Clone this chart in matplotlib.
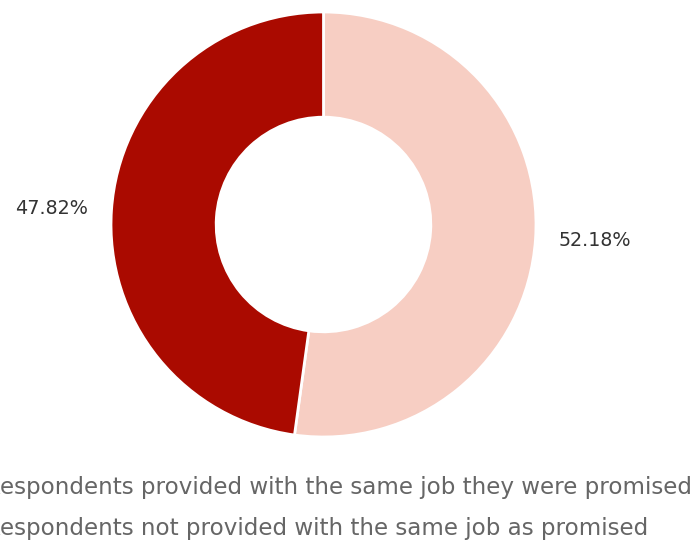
import matplotlib
matplotlib.use('Agg')
import matplotlib.pyplot as plt

labels = ['Respondents provided with the same job they were promised',
          'Respondents not provided with the same job as promised']
values = [52.18, 47.82]
colors = ['#F7CEC3', '#AA0A00']

plt.rcParams['font.family'] = ['DejaVu Sans']

fig = plt.figure(figsize=(6.97, 5.43), dpi=100)
ax = fig.add_axes([111 / 697, 106 / 543, 425 / 697, 425 / 543])

wedges, texts = ax.pie(values, labels=[f'{v:.2f}%' for v in values],
                       colors=colors, startangle=90, counterclock=False,
                       labeldistance=1.11, radius=1,
                       wedgeprops=dict(width=0.495, edgecolor='white', linewidth=2),
                       textprops=dict(fontsize=13.8, color='#333333'))
ax.set_xlim(-1, 1)
ax.set_ylim(-1, 1)
ax.set_aspect('equal')
ax.axis('off')

# legend markers sit off the left edge, as in the source image
fig.legend(wedges, labels, loc='upper left', bbox_to_anchor=(-50 / 697, 67 / 543),
           frameon=False, fontsize=16.6, handlelength=1, handleheight=1,
           handletextpad=0.5, borderpad=0, borderaxespad=0, labelspacing=0.78,
           labelcolor='#666666')

fig.savefig('out.png', dpi=100)
